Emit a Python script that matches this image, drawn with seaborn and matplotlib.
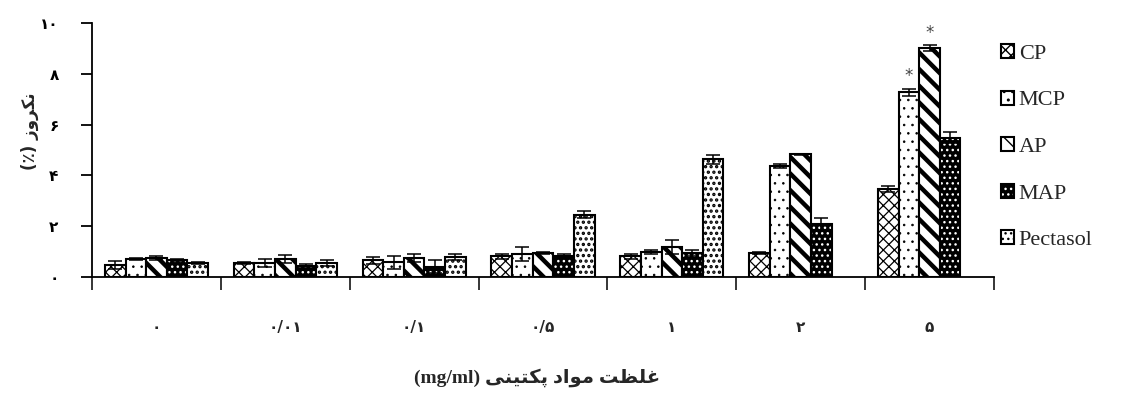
import numpy as np
import pandas as pd
import matplotlib
matplotlib.use("Agg")
import matplotlib.pyplot as plt
import seaborn as sns
from matplotlib.colors import to_rgba

# ---------------- data ----------------
CONC = ["0", "0.01", "0.1", "0.5", "1", "2", "5"]
CONC_LABELS = ["۰", "۰/۰۱", "۰/۱", "۰/۵", "۱", "۲", "۵"]
SAMPLES = ["CP", "MCP", "AP", "MAP", "Pectasol"]

CP = [0.48, 0.55, 0.65, 0.81, 0.81, 0.95, 3.45]
MCP = [0.70, 0.55, 0.58, 0.91, 0.99, 4.37, 7.27]
AP = [0.75, 0.70, 0.75, 0.95, 1.18, 4.83, 9.00]
MAP = [0.65, 0.45, 0.40, 0.84, 0.95, 2.07, 5.49]
PECTASOL = [0.55, 0.55, 0.78, 2.46, 4.63, np.nan, np.nan]

CP_ERR = [0.15, 0.05, 0.12, 0.10, 0.10, 0.05, 0.12]
MCP_ERR = [0.05, 0.15, 0.25, 0.28, 0.09, 0.08, 0.13]
AP_ERR = [0.08, 0.15, 0.15, 0.05, 0.29, 0.03, 0.12]
MAP_ERR = [0.07, 0.05, 0.25, 0.08, 0.13, 0.24, 0.20]
PECTASOL_ERR = [0.05, 0.12, 0.12, 0.13, 0.18, np.nan, np.nan]

STARRED = [("5", "MCP"), ("5", "AP")]

Y_TICKS = [0, 2, 4, 6, 8, 10]
Y_TICK_LABELS = ["۰", "۲", "۴", "۶", "۸", "۱۰"]
YLABEL = "نکروز (٪)"
XLABEL_FA = "غلظت مواد پکتینی"
XLABEL_UNIT = "(mg/ml)"

# ---------------- minimal Persian shaping for display ----------------
FORMS = {
    'ا': ('\uFE8D', '\uFE8E', None, None),
    'د': ('\uFEA9', '\uFEAA', None, None),
    'ر': ('\uFEAD', '\uFEAE', None, None),
    'ز': ('\uFEAF', '\uFEB0', None, None),
    'و': ('\uFEED', '\uFEEE', None, None),
    'ن': ('\uFEE5', '\uFEE6', '\uFEE7', '\uFEE8'),
    'ت': ('\uFE95', '\uFE96', '\uFE97', '\uFE98'),
    'غ': ('\uFECD', '\uFECE', '\uFECF', '\uFED0'),
    'ل': ('\uFEDD', '\uFEDE', '\uFEDF', '\uFEE0'),
    'ظ': ('\uFEC5', '\uFEC6', '\uFEC7', '\uFEC8'),
    'م': ('\uFEE1', '\uFEE2', '\uFEE3', '\uFEE4'),
    'ی': ('\uFBFC', '\uFBFD', '\uFBFE', '\uFBFF'),
    'پ': ('\uFB56', '\uFB57', '\uFB58', '\uFB59'),
    'ک': ('\uFB8E', '\uFB8F', '\uFB90', '\uFB91'),
}


def rtl(s):
    out = []
    for i, c in enumerate(s):
        if c not in FORMS:
            out.append(c)
            continue
        prev = s[i - 1] if i > 0 else None
        nxt = s[i + 1] if i + 1 < len(s) else None
        jp = prev in FORMS and FORMS[prev][2] is not None
        jn = FORMS[c][2] is not None and nxt in FORMS
        iso, fin, ini, med = FORMS[c]
        out.append(med if (jp and jn) else fin if jp else ini if jn else iso)
    vis = ''.join(reversed(out))
    return vis.translate(str.maketrans("()", ")("))


# ---------------- build table ----------------
values = {"CP": CP, "MCP": MCP, "AP": AP, "MAP": MAP, "Pectasol": PECTASOL}
errors = {"CP": CP_ERR, "MCP": MCP_ERR, "AP": AP_ERR, "MAP": MAP_ERR, "Pectasol": PECTASOL_ERR}
rows = []
for s in SAMPLES:
    for c, v, e in zip(CONC, values[s], errors[s]):
        if not np.isnan(v):
            rows.append({"conc": c, "sample": s, "necrosis": v, "err": e})
df = pd.DataFrame(rows)

# ---------------- plot ----------------
sns.set_theme(style="ticks")
plt.rcParams["font.family"] = ["Liberation Serif", "DejaVu Sans"]
plt.rcParams["hatch.linewidth"] = 1.0

fig = plt.figure(figsize=(11.26, 4.03), dpi=100)
ax = fig.add_axes([92 / 1126, 126 / 403, 902 / 1126, 254 / 403])

sns.barplot(data=df, x="conc", y="necrosis", hue="sample", order=CONC,
            hue_order=SAMPLES, palette={s: "white" for s in SAMPLES},
            edgecolor="black", linewidth=1.5, errorbar=None, width=0.8,
            legend=False, ax=ax)

styles = {
    "CP": dict(face="white", hatch="xxx", hc="black", hlw=0.9),
    "MCP": dict(face="white", hatch="..", hc="black", hlw=0.6),
    "AP": dict(face="white", hatch="\\\\", hc="black", hlw=3.2),
    "MAP": dict(face="black", hatch="...", hc="white", hlw=1.0),
    "Pectasol": dict(face="white", hatch="...", hc="black", hlw=1.6),
}

handles = []
for s, cont in zip(SAMPLES, ax.containers):
    st = styles[s]
    sub = df[df["sample"] == s].set_index("conc")
    for p in cont.patches:
        p.set_facecolor(st["face"])
        p.set_edgecolor("black")
        p.set_hatch(st["hatch"])
        p._hatch_color = to_rgba(st["hc"])
        if hasattr(p, "set_hatch_linewidth"):
            p.set_hatch_linewidth(st["hlw"])
        p.stale = True
        xc = p.get_x() + p.get_width() / 2
        cat = CONC[int(round(xc))]
        h = p.get_height()
        e = sub.loc[cat, "err"]
        ax.errorbar(xc, h, yerr=e, fmt="none", ecolor="black",
                    elinewidth=1.1, capsize=5, capthick=1.1, zorder=4)
        if (cat, s) in STARRED:
            ax.text(xc, h + e + 0.15, "*", ha="center", va="bottom",
                    fontsize=12, color="#444444", family="DejaVu Sans")
    handles.append(cont.patches[0])

ax.set_xlim(-0.5, 6.5)
ax.set_ylim(0, 10)
ax.set_yticks(Y_TICKS)
ax.set_yticklabels(Y_TICK_LABELS, family="DejaVu Sans", fontweight="bold",
                   fontsize=11)
ax.tick_params(axis="y", direction="out", length=8, width=1.3, pad=16,
               colors="black")

ax.set_xticks(np.arange(-0.5, 7.0, 1.0))
ax.set_xticklabels([""] * 8)
ax.set_xticks(np.arange(7), minor=True)
ax.set_xticklabels(CONC_LABELS, minor=True, family="DejaVu Sans",
                   fontweight="bold", fontsize=11)
ax.tick_params(axis="x", which="major", direction="out", length=9, width=1.3)
ax.tick_params(axis="x", which="minor", length=0, pad=31)

for sp in ["top", "right"]:
    ax.spines[sp].set_visible(False)
for sp in ["left", "bottom"]:
    ax.spines[sp].set_linewidth(1.3)
    ax.spines[sp].set_color("black")

ax.set_xlabel("")
ax.set_ylabel("")
fig.text(537 / 1126, 1 - 378 / 403, XLABEL_UNIT + " " + rtl(XLABEL_FA),
         ha="center", va="center", fontsize=14, fontweight="bold",
         family=["Liberation Serif", "DejaVu Sans"])
fig.text(30 / 1126, 1 - 131 / 403, rtl(YLABEL), ha="center", va="center",
         rotation=90, fontsize=12, fontweight="bold", family="DejaVu Sans")

leg = fig.legend(handles, SAMPLES, loc="upper left",
                 bbox_to_anchor=(1001 / 1126, 1 - 44 / 403), frameon=False,
                 handlelength=0.6, handleheight=0.6,
                 handletextpad=0.2, labelspacing=1.2, borderpad=0,
                 borderaxespad=0, prop={"family": "Liberation Serif", "size": 16})

fig.savefig("out.png", dpi=100)
